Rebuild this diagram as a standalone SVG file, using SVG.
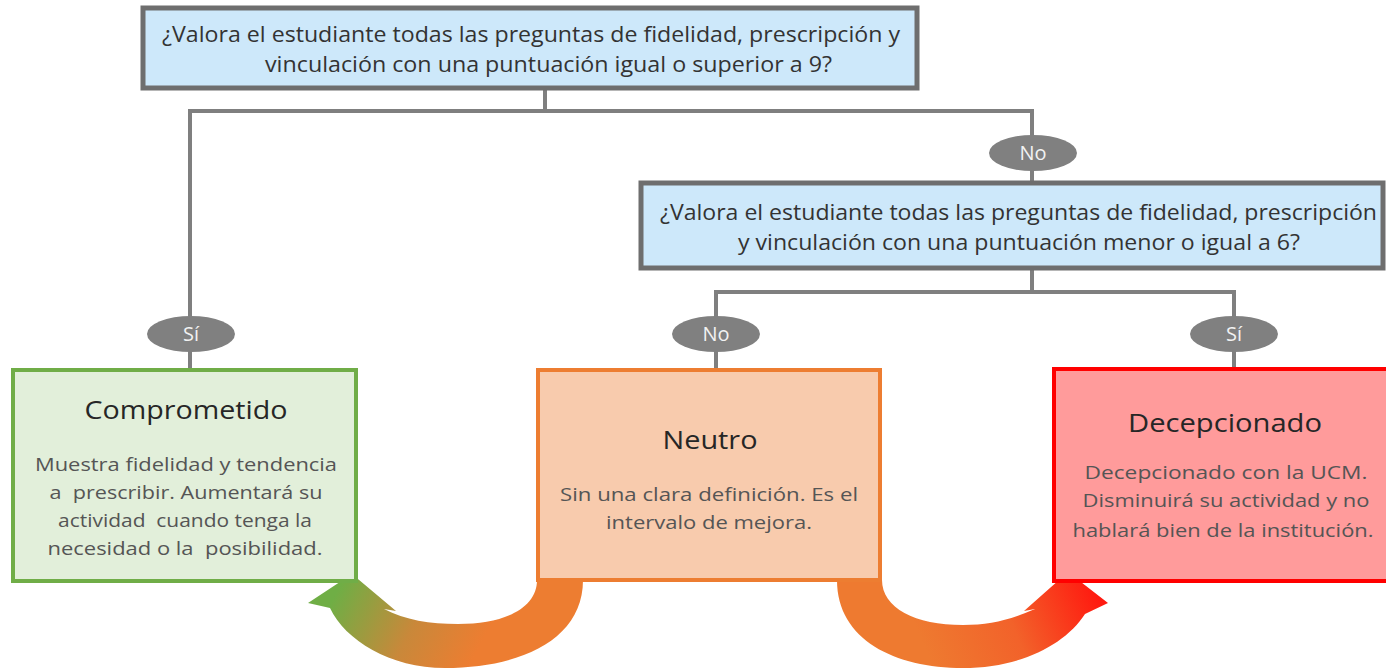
<svg xmlns="http://www.w3.org/2000/svg" width="1386" height="670" viewBox="0 0 1386 670">
<defs>
<style>
.q{fill:#cde8fa;stroke:#6e6e6e;stroke-width:5}
.qt{font-family:"Open Sans","Liberation Sans",sans-serif;font-size:21px;fill:#333}
.ln{fill:none;stroke:#7f7f7f;stroke-width:4}
.ov{fill:#808080}
.ot{font-family:"Open Sans","Liberation Sans",sans-serif;font-size:20px;fill:#f2f2f2;text-anchor:middle}
.tt{font-family:"Open Sans","Liberation Sans",sans-serif;font-size:25px;fill:#262626;text-anchor:middle}
.bt{font-family:"Open Sans","Liberation Sans",sans-serif;font-size:18px;fill:#555;text-anchor:middle}
</style>
<linearGradient id="gL" gradientUnits="userSpaceOnUse" x1="335" y1="595" x2="470" y2="665">
<stop offset="0" stop-color="#6fae45"/>
<stop offset="0.55" stop-color="#c9883a"/>
<stop offset="1" stop-color="#ed7d31"/>
</linearGradient>
<linearGradient id="gR" gradientUnits="userSpaceOnUse" x1="930" y1="660" x2="1095" y2="590">
<stop offset="0" stop-color="#ee7a30"/>
<stop offset="0.5" stop-color="#f2622a"/>
<stop offset="1" stop-color="#ff1a10"/>
</linearGradient>
</defs>

<g id="arrows">
<path fill="url(#gL)" d="M583 580 C583 640 520 668 445 668 C390 668 345 640 330 608 L308 603 L352 574 L396 611 L384 609 C405 620 430 624 458 624 C505 624 537 608 537 580 Z"/>
<path fill="url(#gR)" d="M837 580 C837 640 895 668 963 668 C1020 668 1065 645 1085 614 L1108 603 L1068 572 L1024 611 L1035 609 C1010 620 990 625 963 625 C915 625 882 608 882 580 Z"/>
</g>

<g id="connectors">
<path class="ln" d="M545 88 V111 M190 111 H1032 M190 109 V370 M1032 109 V183 M1032 268 V292 M716 292 H1234 M716 290 V370 M1234 290 V370"/>
</g>

<g id="q1">
<rect class="q" x="143" y="8" width="774" height="80"/>
<text class="qt" x="162" y="42" textLength="738" lengthAdjust="spacingAndGlyphs">¿Valora el estudiante todas las preguntas de fidelidad, prescripción y</text>
<text class="qt" x="265" y="72" textLength="567" lengthAdjust="spacingAndGlyphs">vinculación con una puntuación igual o superior a 9?</text>
</g>

<g id="q2">
<rect class="q" x="641" y="183" width="742" height="85"/>
<text class="qt" x="660" y="220" textLength="717" lengthAdjust="spacingAndGlyphs">¿Valora el estudiante todas las preguntas de fidelidad, prescripción</text>
<text class="qt" x="738" y="250" textLength="562" lengthAdjust="spacingAndGlyphs">y vinculación con una puntuación menor o igual a 6?</text>
</g>

<g id="lbl-no1">
<ellipse class="ov" cx="1033" cy="153" rx="44" ry="18"/>
<text class="ot" x="1033" y="160">No</text>
</g>
<g id="lbl-si1">
<ellipse class="ov" cx="191" cy="334" rx="44" ry="18"/>
<text class="ot" x="191" y="341">Sí</text>
</g>
<g id="lbl-no2">
<ellipse class="ov" cx="716" cy="334" rx="44" ry="18"/>
<text class="ot" x="716" y="341">No</text>
</g>
<g id="lbl-si2">
<ellipse class="ov" cx="1234" cy="334" rx="44" ry="18"/>
<text class="ot" x="1234" y="341">Sí</text>
</g>

<g id="comprometido">
<rect x="13" y="370" width="343" height="211" fill="#e2efda" stroke="#70ad47" stroke-width="4"/>
<text class="tt" x="186" y="419" textLength="203" lengthAdjust="spacingAndGlyphs">Comprometido</text>
<text class="bt" x="186" y="471" textLength="302" lengthAdjust="spacingAndGlyphs">Muestra fidelidad y tendencia</text>
<text class="bt" x="186" y="499" xml:space="preserve" textLength="273" lengthAdjust="spacingAndGlyphs">a  prescribir. Aumentará su</text>
<text class="bt" x="185" y="527" xml:space="preserve" textLength="254" lengthAdjust="spacingAndGlyphs">actividad  cuando tenga la</text>
<text class="bt" x="185" y="555" xml:space="preserve" textLength="275" lengthAdjust="spacingAndGlyphs">necesidad o la  posibilidad.</text>
</g>

<g id="neutro">
<rect x="538" y="370" width="342" height="210" fill="#f8cbad" stroke="#ed7d31" stroke-width="4"/>
<text class="tt" x="710" y="449" textLength="95" lengthAdjust="spacingAndGlyphs">Neutro</text>
<text class="bt" x="709" y="501" textLength="298" lengthAdjust="spacingAndGlyphs">Sin una clara definición. Es el</text>
<text class="bt" x="709" y="529" textLength="206" lengthAdjust="spacingAndGlyphs">intervalo de mejora.</text>
</g>

<g id="decepcionado">
<rect x="1054" y="369" width="340" height="212" fill="#ff9b9b" stroke="#ff0000" stroke-width="4"/>
<text class="tt" x="1225" y="432" textLength="194" lengthAdjust="spacingAndGlyphs">Decepcionado</text>
<text class="bt" x="1226" y="479" fill="#5a4040" textLength="283" lengthAdjust="spacingAndGlyphs">Decepcionado con la UCM.</text>
<text class="bt" x="1226" y="507" textLength="287" lengthAdjust="spacingAndGlyphs">Disminuirá su actividad y no</text>
<text class="bt" x="1223" y="537" textLength="301" lengthAdjust="spacingAndGlyphs">hablará bien de la institución.</text>
</g>
</svg>
